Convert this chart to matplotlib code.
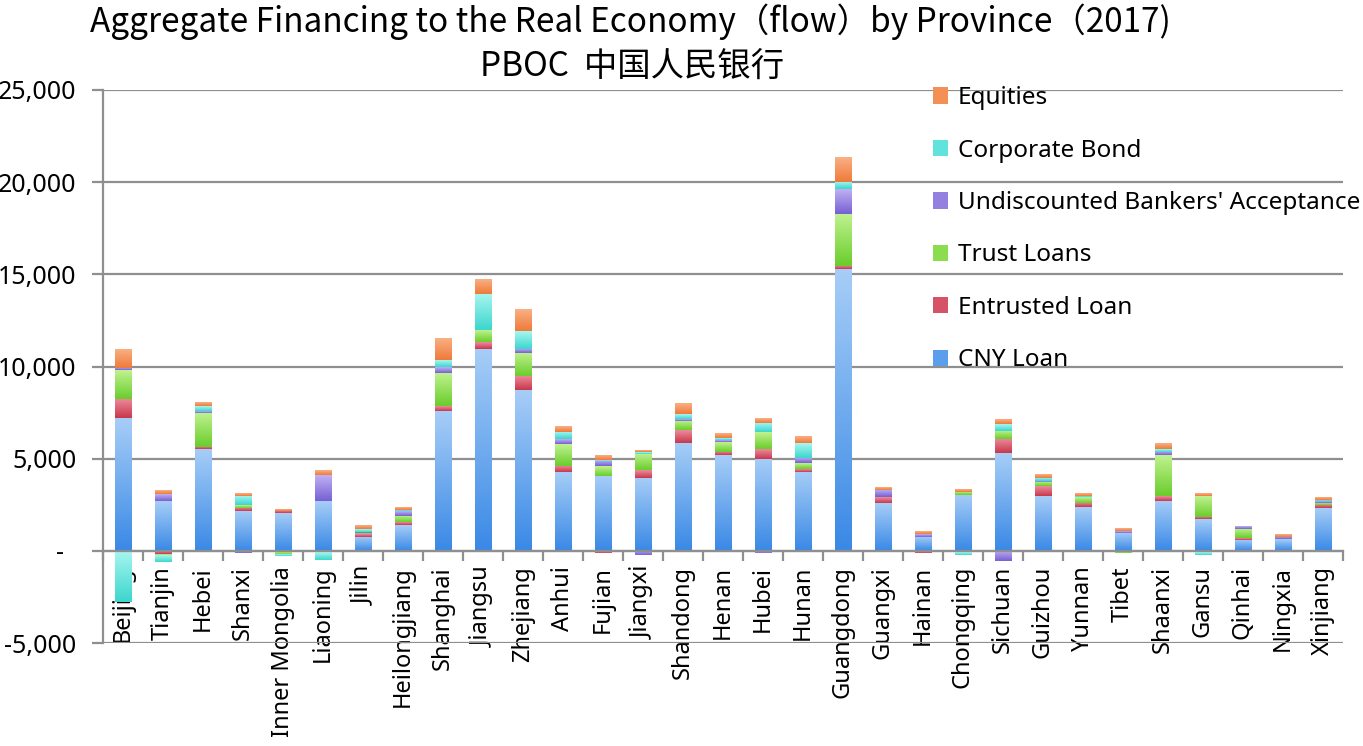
import numpy as np
import matplotlib
matplotlib.use("Agg")
import matplotlib.pyplot as plt
from matplotlib.colors import LinearSegmentedColormap
from matplotlib.patches import Patch
from matplotlib.ticker import FuncFormatter, FixedLocator

plt.rcParams['font.family'] = ['Noto Sans', 'Noto Sans CJK SC', 'DejaVu Sans']

provinces = ["Beijing", "Tianjin", "Hebei", "Shanxi", "Inner Mongolia", "Liaoning", "Jilin",
             "Heilongjiang", "Shanghai", "Jiangsu", "Zhejiang", "Anhui", "Fujian", "Jiangxi",
             "Shandong", "Henan", "Hubei", "Hunan", "Guangdong", "Guangxi", "Hainan", "Chongqing",
             "Sichuan", "Guizhou", "Yunnan", "Tibet", "Shaanxi", "Gansu", "Qinhai", "Ningxia", "Xinjiang"]

cny_loan = [7210, 2710, 5510, 2170, 2030, 2710, 760, 1390, 7590, 10970, 8710, 4250, 4070, 3970,
            5870, 5200, 5000, 4300, 15270, 2590, 770, 3040, 5290, 2980, 2370, 990, 2720, 1700, 600, 640, 2320]
entrusted_loan = [1050, -180, 130, 180, 140, -120, 130, 150, 250, 360, 760, 340, -100, 420,
                  690, 180, 510, 140, 190, 320, -100, -80, 780, 540, 220, 0, 260, 130, 90, 0, 180]
trust_loans = [1570, -80, 1860, 140, -200, 0, 60, 340, 1810, 630, 1260, 1190, 540, 870,
               490, 540, 920, 310, 2830, 0, 0, 170, 450, 240, 320, -100, 2220, 1120, 490, 0, 120]
undiscounted = [110, 350, 70, -120, 0, 1390, 60, 270, 320, -80, 220, 260, 280, -230,
                90, 100, -100, 310, 1320, 400, 130, 0, -560, 40, -60, 90, 180, -100, 140, 120, 60]
corporate_bond = [-2800, -350, 270, 490, -80, -380, 150, 90, 370, 1990, 960, 390, 50, 90,
                  270, 90, 490, 780, 390, 0, 0, -150, 360, 170, 90, 0, 130, -120, -60, -60, 90]
equities = [990, 180, 180, 150, 90, 240, 180, 140, 1170, 760, 1190, 290, 250, 90,
            560, 230, 230, 350, 1330, 140, 110, 150, 260, 190, 130, 110, 290, 110, 0, 160, 140]

series_names = ["CNY Loan", "Entrusted Loan", "Trust Loans",
                "Undiscounted Bankers' Acceptance", "Corporate Bond", "Equities"]
series_values = [cny_loan, entrusted_loan, trust_loans, undiscounted, corporate_bond, equities]
# (top light, bottom dark, legend colour)
series_colors = [("#a6cdf7", "#3a89e6", "#5b9fec"),
                 ("#ec8c9c", "#c8384c", "#d65367"),
                 ("#c0f290", "#6acd2c", "#8cdc50"),
                 ("#c0b0f2", "#7660d4", "#9480e0"),
                 ("#a8f6f0", "#3cd6ce", "#62e2dc"),
                 ("#f9b084", "#ef7a3a", "#f39056")]

fig = plt.figure(figsize=(13.63, 7.46), dpi=100)
ax = fig.add_axes([103 / 1363, 1 - 643 / 746, 1240 / 1363, 553 / 746])

x = np.arange(len(provinces))
pos_base = np.zeros(len(provinces))
neg_base = np.zeros(len(provinces))
width = 0.42
for name, vals, cols in zip(series_names, series_values, series_colors):
    v = np.array(vals, dtype=float)
    bottom = np.where(v >= 0, pos_base, neg_base)
    bars = ax.bar(x, v, width, bottom=bottom, color=cols[2], linewidth=0, zorder=3)
    cmap = LinearSegmentedColormap.from_list(name, [cols[1], cols[0]])
    for rect in bars:
        h = rect.get_height()
        if h == 0:
            continue
        x0 = rect.get_x()
        y0 = rect.get_y()
        ylo, yhi = min(y0, y0 + h), max(y0, y0 + h)
        grad = np.linspace(0, 1, 64).reshape(-1, 1)
        ax.imshow(grad, cmap=cmap, origin='lower', aspect='auto', interpolation='bilinear',
                  extent=[x0, x0 + rect.get_width(), ylo, yhi], zorder=4)
    pos_base = pos_base + np.where(v > 0, v, 0)
    neg_base = neg_base + np.where(v < 0, v, 0)

ax.set_xlim(-0.5, len(provinces) - 0.5)
ax.set_ylim(-5000, 25000)

grid_col = "#8f8f8f"
ax.set_yticks(np.arange(-5000, 25001, 5000))
ax.yaxis.set_major_formatter(FuncFormatter(lambda v, p: "-  " if v == 0 else f"{v:,.0f}"))
ax.yaxis.grid(True, color=grid_col, linewidth=1.6, zorder=1)
ax.set_axisbelow(True)
ax.tick_params(axis='y', which='major', direction='out', length=8, width=1.6, color=grid_col,
               labelsize=18, pad=11)

for s in ['top', 'right']:
    ax.spines[s].set_visible(False)
ax.spines['left'].set_color(grid_col)
ax.spines['left'].set_linewidth(1.6)
ax.spines['bottom'].set_position(('data', 0))
ax.spines['bottom'].set_color(grid_col)
ax.spines['bottom'].set_linewidth(1.6)
ax.spines['bottom'].set_zorder(5)

ax.xaxis.set_major_locator(FixedLocator(np.arange(-0.5, len(provinces), 1.0)))
ax.xaxis.set_major_formatter(FuncFormatter(lambda v, p: ""))
ax.xaxis.set_minor_locator(FixedLocator(x))
ax.set_xticklabels(provinces, minor=True, rotation=90, fontsize=17, va='top', ha='center')
ax.tick_params(axis='x', which='major', direction='out', length=7, width=1.6, color=grid_col)
ax.tick_params(axis='x', which='minor', length=0, pad=11)

handles = [Patch(facecolor=c[2], edgecolor='none') for c in series_colors]
ax.legend(handles[::-1], series_names[::-1], loc='upper left', bbox_to_anchor=(0.669, 1.007),
          frameon=False, fontsize=17.5, handlelength=0.65, handleheight=0.65, handletextpad=0.4,
          labelspacing=1.17, borderpad=0, borderaxespad=0)

fig.text(630 / 1363, 1 - 22 / 746, "Aggregate Financing to the Real Economy（flow）by Province（2017)",
         ha='center', va='center', fontsize=24,
         family=['Noto Sans CJK SC', 'DejaVu Sans'])
fig.text(632 / 1363, 1 - 66 / 746, "PBOC  中国人民银行",
         ha='center', va='center', fontsize=24,
         family=['Noto Sans CJK SC', 'DejaVu Sans'])

fig.savefig("out.png", dpi=100)
